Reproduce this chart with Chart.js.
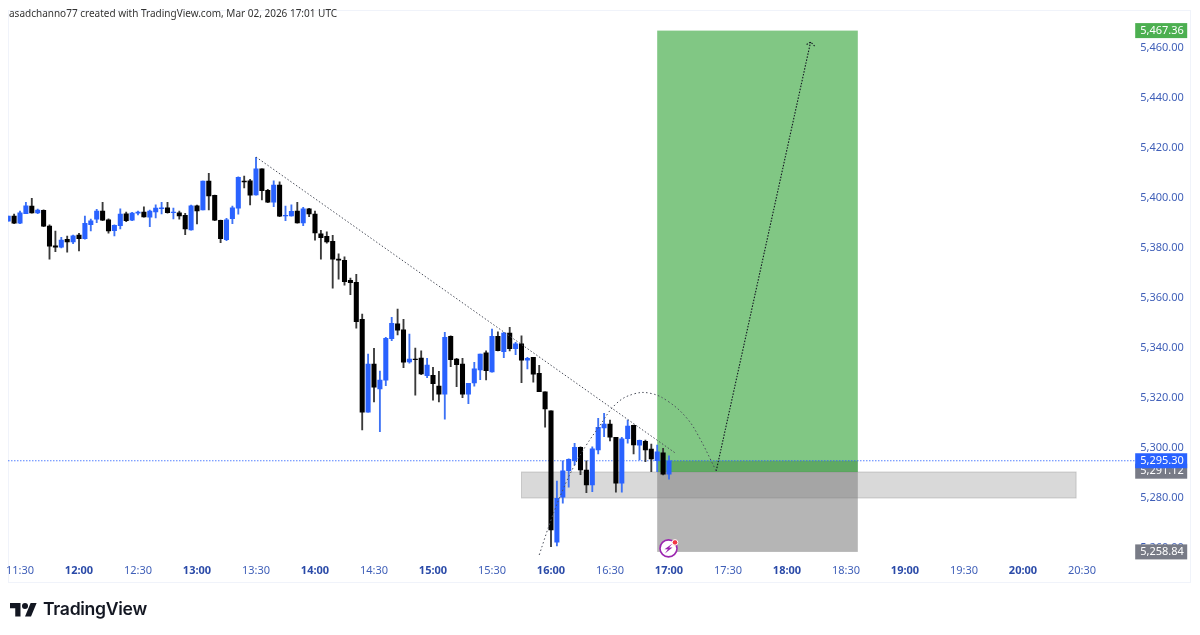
<!DOCTYPE html>
<html>
<head>
<meta charset="utf-8">
<title>asadchanno77 chart</title>
<script src="https://cdn.jsdelivr.net/npm/chart.js@4"></script>
<style>
  html, body { margin: 0; padding: 0; background: #fff; width: 1200px; height: 635px; overflow: hidden; }
  #frame { position: absolute; left: 8px; top: 10px; width: 1183px; height: 573px; border: 1px solid #f0f3fa; box-sizing: border-box; }
  #chart { position: absolute; left: 0; top: 0; }
  #header { position: absolute; left: 9px; top: 6px; font: 10px "Noto Sans", sans-serif; color: #333; white-space: nowrap; }
  #logo { position: absolute; left: 10px; top: 600px; }
  #brand { position: absolute; left: 43px; top: 598px; font: 600 17.6px Inter, sans-serif; color: #131722; letter-spacing: -0.3px; }
</style>
</head>
<body>
<div id="frame"></div>
<canvas id="chart" width="1200" height="635"></canvas>
<div id="header">asadchanno77 created with TradingView.com, Mar 02, 2026 17:01 UTC</div>
<svg id="logo" width="27" height="18" viewBox="0 0 36 24"><path fill="#131722" d="M14 22H7V11H0V4h14v18zM28 22h-8l7.5-18h8L28 22z"/><circle fill="#131722" cx="20" cy="8" r="4"/></svg>
<div id="brand">TradingView</div>
<script>
// 3 minute bars, 11:24 -> 20:54 (bars stop at 17:00, the rest is empty space)
const categories = [
  '11:24','11:27',
  '11:30','11:33','11:36','11:39','11:42','11:45','11:48','11:51','11:54','11:57',
  '12:00','12:03','12:06','12:09','12:12','12:15','12:18','12:21','12:24','12:27',
  '12:30','12:33','12:36','12:39','12:42','12:45','12:48','12:51','12:54','12:57',
  '13:00','13:03','13:06','13:09','13:12','13:15','13:18','13:21','13:24','13:27',
  '13:30','13:33','13:36','13:39','13:42','13:45','13:48','13:51','13:54','13:57',
  '14:00','14:03','14:06','14:09','14:12','14:15','14:18','14:21','14:24','14:27',
  '14:30','14:33','14:36','14:39','14:42','14:45','14:48','14:51','14:54','14:57',
  '15:00','15:03','15:06','15:09','15:12','15:15','15:18','15:21','15:24','15:27',
  '15:30','15:33','15:36','15:39','15:42','15:45','15:48','15:51','15:54','15:57',
  '16:00','16:03','16:06','16:09','16:12','16:15','16:18','16:21','16:24','16:27',
  '16:30','16:33','16:36','16:39','16:42','16:45','16:48','16:51','16:54','16:57',
  '17:00','17:03','17:06','17:09','17:12','17:15','17:18','17:21','17:24','17:27',
  '17:30','17:33','17:36','17:39','17:42','17:45','17:48','17:51','17:54','17:57',
  '18:00','18:03','18:06','18:09','18:12','18:15','18:18','18:21','18:24','18:27',
  '18:30','18:33','18:36','18:39','18:42','18:45','18:48','18:51','18:54','18:57',
  '19:00','19:03','19:06','19:09','19:12','19:15','19:18','19:21','19:24','19:27',
  '19:30','19:33','19:36','19:39','19:42','19:45','19:48','19:51','19:54','19:57',
  '20:00','20:03','20:06','20:09','20:12','20:15','20:18','20:21','20:24','20:27',
  '20:30','20:33','20:36','20:39','20:42','20:45','20:48','20:51','20:54'
];

const opens = [
  5391.1,5393.2,5390.3,5394.1,5397.2,5394.4,5395.5,5389.2,5381.3,5380.7,
  5383.9,5382.8,5385.6,5384.1,5389.7,5391.9,5395.2,5391.7,5387.3,5389.3,
  5394.1,5391.5,5394.3,5394.8,5392.7,5394.8,5396.1,5396.5,5394.5,5394.5,
  5393.5,5387.6,5397.3,5395.6,5407.2,5401.5,5391.5,5383.7,5392.1,5396.3,
  5407.2,5407.3,5401.6,5412.1,5403.5,5398.7,5405.6,5393.2,5393.2,5395.2,
  5390.4,5396.1,5394.0,5386.1,5385.1,5383.1,5376.0,5375.5,5367.5,5366.7,
  5351.9,5314.7,5334.0,5324.0,5327.5,5344.1,5350.1,5347.7,5334.8,5336.0,
  5336.4,5329.3,5329.5,5325.2,5321.9,5345.1,5336.0,5334.0,5321.9,5326.4,
  5331.6,5338.5,5330.8,5345.1,5338.9,5346.4,5340.1,5342.1,5335.5,5336.7,
  5330.3,5322.9,5315.3,5262.7,5280.7,5291.3,5295.3,5300.7,5291.6,5285.6,
  5299.6,5308.4,5310.0,5304.7,5286.3,5304.1,5309.5,5301.5,5303.1,5300.0,
  5295.3,5298.5,5289.9
];
const highs = [
  5393.2,5394.0,5395.2,5398.7,5400.3,5396.0,5395.7,5389.7,5387.2,5384.7,
  5385.2,5385.6,5386.3,5393.2,5392.0,5395.9,5398.7,5392.1,5389.7,5396.1,
  5394.8,5394.7,5395.2,5396.9,5395.6,5397.7,5398.7,5398.7,5396.4,5395.2,
  5394.3,5397.6,5397.6,5407.2,5410.3,5401.6,5391.6,5392.3,5397.2,5408.9,
  5409.2,5407.9,5416.7,5412.1,5403.9,5407.3,5406.9,5397.2,5397.7,5398.7,
  5396.7,5396.3,5395.2,5387.5,5386.9,5385.5,5378.1,5376.9,5368.4,5369.9,
  5354.0,5338.0,5340.3,5331.2,5344.7,5352.7,5356.0,5351.9,5346.0,5340.4,
  5339.3,5336.3,5332.7,5331.1,5346.7,5345.3,5336.3,5336.3,5326.3,5334.7,
  5338.0,5339.3,5348.0,5346.9,5346.7,5348.7,5342.7,5345.3,5336.7,5336.7,
  5333.5,5322.9,5315.3,5287.2,5295.3,5296.1,5302.3,5300.9,5295.3,5300.9,
  5312.3,5314.3,5311.6,5304.7,5304.7,5311.6,5309.6,5303.6,5303.6,5302.0,
  5301.6,5300.3,5297.3
];
const lows = [
  5391.1,5390.1,5390.1,5394.1,5394.3,5394.1,5388.9,5375.9,5378.9,5380.4,
  5378.7,5382.1,5379.2,5383.9,5387.2,5390.5,5391.3,5386.3,5385.2,5388.0,
  5390.9,5391.3,5393.6,5392.7,5388.9,5392.4,5394.0,5394.3,5392.0,5391.9,
  5385.7,5387.5,5390.0,5395.6,5395.6,5391.3,5382.5,5383.3,5390.1,5393.9,
  5404.4,5397.6,5401.5,5399.6,5398.5,5396.9,5392.9,5391.3,5393.1,5390.3,
  5389.3,5392.9,5383.5,5375.9,5382.3,5364.3,5367.9,5365.5,5361.7,5348.3,
  5307.6,5314.7,5318.8,5306.9,5325.3,5343.3,5345.6,5332.5,5334.3,5321.5,
  5329.7,5328.5,5319.5,5318.8,5311.9,5332.9,5324.9,5320.5,5318.1,5325.1,
  5327.7,5327.6,5330.7,5339.2,5336.5,5339.2,5337.7,5326.5,5332.0,5326.7,
  5322.9,5308.7,5260.9,5261.2,5278.3,5284.7,5293.6,5289.7,5282.5,5282.9,
  5298.0,5304.9,5303.2,5282.7,5282.7,5302.3,5298.0,5295.6,5294.9,5290.9,
  5290.9,5289.6,5287.9
];
const closes = [
  5393.2,5390.3,5394.5,5397.3,5394.4,5395.6,5389.1,5381.1,5380.7,5383.6,
  5382.8,5385.3,5384.1,5390.3,5391.3,5395.2,5391.5,5387.2,5389.5,5394.0,
  5391.3,5394.4,5394.8,5392.8,5395.2,5396.4,5396.5,5394.5,5394.8,5393.2,
  5388.0,5397.3,5395.2,5407.2,5401.2,5391.5,5384.1,5391.7,5396.5,5408.7,
  5406.8,5401.5,5412.1,5403.3,5398.7,5405.6,5393.1,5393.5,5395.1,5390.4,
  5396.1,5394.0,5386.4,5384.5,5382.8,5375.9,5375.5,5366.9,5366.5,5350.9,
  5314.7,5334.0,5324.7,5327.6,5344.3,5350.3,5347.5,5334.7,5336.0,5335.7,
  5330.0,5333.6,5326.1,5321.9,5344.7,5335.7,5333.7,5321.9,5326.3,5332.1,
  5338.0,5331.3,5345.1,5339.3,5346.4,5340.1,5342.1,5335.5,5336.3,5329.9,
  5322.9,5316.0,5267.6,5280.3,5291.3,5295.9,5300.7,5291.6,5285.6,5300.1,
  5308.7,5310.0,5304.7,5286.3,5304.1,5309.2,5301.6,5303.5,5299.6,5296.0,
  5298.9,5289.9,5295.3
];

const priceTicks = [5260,5280,5300,5320,5340,5360,5380,5400,5420,5440,5460];
const timeTicks = ['11:30','12:00','12:30','13:00','13:30','14:00','14:30','15:00','15:30','16:00','16:30','17:00','17:30','18:00','18:30','19:00','19:30','20:00','20:30'];

// drawings on the chart
const trendTimes = ['13:30','17:03'];
const trendPrices = [5416.8,5298.5];
const curveTimes = ['15:54','16:00','16:06','16:12','16:18','16:24','16:33','16:42','16:51','17:00','17:09','17:15','17:24'];
const curvePrices = [5257.6,5271.6,5283.6,5293.6,5301.6,5308.4,5318,5322,5322.2,5318.8,5312.4,5305.2,5291.2];
const arrowTimes = ['17:24','18:12'];
const arrowPrices = [5291.2,5462.8];

const lastPrice = 5295.30;
const targetPrice = 5467.36;
const entryPrice = 5291.12;
const stopPrice = 5258.84;
const zoneTimes = ['16:54','18:36'];
const boxTimes = ['15:45','20:27'];
const boxPrices = [5290.8,5280.4];

const UP = '#2962ff', DOWN = '#000000';
const LINE = '#4a4e5a';
const isUp = i => closes[i] >= opens[i];
const money = v => v.toLocaleString('en-US', {minimumFractionDigits: 2, maximumFractionDigits: 2});
const LABEL_FONT = '11px "Noto Sans", sans-serif';

function rectBetween(c, x, y, t0, t1, p0, p1, fill) {
  const l = x.getPixelForValue(categories.indexOf(t0)), r = x.getPixelForValue(categories.indexOf(t1));
  const a = y.getPixelForValue(p0), b = y.getPixelForValue(p1);
  c.fillStyle = fill;
  c.fillRect(l, a, r - l, b - a);
  return [l, a, r - l, b - a];
}

const drawings = {
  id: 'drawings',
  beforeDatasetsDraw(chart) {
    const c = chart.ctx, x = chart.scales.x, y = chart.scales.y;
    c.save();
    // grey box
    const b = rectBetween(c, x, y, boxTimes[0], boxTimes[1], boxPrices[0], boxPrices[1], 'rgba(128,128,128,0.3)');
    c.strokeStyle = 'rgba(128,128,128,0.35)';
    c.strokeRect(b[0], b[1], b[2], b[3]);
    // long position
    rectBetween(c, x, y, zoneTimes[0], zoneTimes[1], targetPrice, boxPrices[0], 'rgba(76,175,80,0.7)');
    rectBetween(c, x, y, zoneTimes[0], zoneTimes[1], lastPrice, boxPrices[0], 'rgba(46,125,50,0.4)');
    rectBetween(c, x, y, zoneTimes[0], zoneTimes[1], boxPrices[0], stopPrice, 'rgba(128,128,128,0.58)');
    // last price line, left off the pixel grid so it keeps its blue
    const ly = y.getPixelForValue(lastPrice);
    c.strokeStyle = UP;
    c.lineWidth = 1.1;
    c.setLineDash([1.2, 1.8]);
    c.beginPath();
    c.moveTo(chart.chartArea.left, ly);
    c.lineTo(chart.chartArea.right + 6, ly);
    c.stroke();
    c.restore();
  },
  afterDraw(chart) {
    const c = chart.ctx, x = chart.scales.x, y = chart.scales.y;
    c.save();
    // arrow head
    const tx = x.getPixelForValue(categories.indexOf(arrowTimes[1])), ty = y.getPixelForValue(arrowPrices[1]);
    c.strokeStyle = '#131722';
    c.lineWidth = 1.1;
    c.setLineDash([1.5, 1.5]);
    c.beginPath();
    c.moveTo(tx - 4, ty + 2.5);
    c.lineTo(tx, ty);
    c.lineTo(tx + 4, ty + 4);
    c.stroke();
    c.setLineDash([]);

    // lightning badge under the 17:00 bar
    const bx = x.getPixelForValue(categories.indexOf('17:00')) - 0.5, by = y.getPixelForValue(stopPrice) - 3.5;
    c.beginPath();
    c.arc(bx, by, 8.5, 0, Math.PI * 2);
    c.fillStyle = '#fff';
    c.fill();
    c.lineWidth = 1.6;
    c.strokeStyle = '#9c27b0';
    c.stroke();
    c.beginPath();
    c.moveTo(bx + 4, by - 5);
    c.lineTo(bx - 4, by + 0.8);
    c.lineTo(bx - 0.6, by + 0.8);
    c.lineTo(bx - 3.6, by + 5);
    c.lineTo(bx + 4, by - 0.8);
    c.lineTo(bx + 0.6, by - 0.8);
    c.closePath();
    c.fillStyle = '#9c27b0';
    c.fill();
    c.beginPath();
    c.arc(bx + 6.5, by - 6, 2.8, 0, Math.PI * 2);
    c.fillStyle = '#f23645';
    c.strokeStyle = '#fff';
    c.lineWidth = 1;
    c.fill();
    c.stroke();

    // price tags on the axis
    const tagX = chart.chartArea.right + 6;
    const tags = [[targetPrice, '#4caf50'], [entryPrice, '#787b86'], [stopPrice, '#787b86'], [lastPrice, UP]];
    c.font = LABEL_FONT;
    c.textBaseline = 'middle';
    c.textAlign = 'left';
    tags.forEach(t => {
      const py = y.getPixelForValue(t[0]);
      c.fillStyle = t[1];
      c.fillRect(tagX, py - 7.5, 52, 15);
      c.fillStyle = '#fff';
      c.fillText(money(t[0]), tagX + 5, py);
    });
    c.restore();
  }
};

new Chart(document.getElementById('chart'), {
  data: {
    labels: categories,
    datasets: [
      {
        type: 'bar',
        label: 'wicks',
        data: opens.map((_, i) => [lows[i], highs[i]]),
        backgroundColor: ctx => isUp(ctx.dataIndex) ? '#3d72f5' : '#3a3a3a',
        barThickness: 1.2,
        grouped: false,
        order: 3
      },
      {
        type: 'bar',
        label: 'bodies',
        data: opens.map((o, i) => [o, closes[i]]),
        backgroundColor: ctx => isUp(ctx.dataIndex) ? UP : DOWN,
        barThickness: 4.4,
        grouped: false,
        order: 2
      },
      {
        type: 'line',
        label: 'trend',
        data: trendTimes.map((t, i) => ({x: t, y: trendPrices[i]})),
        borderColor: LINE,
        borderWidth: 1,
        borderDash: [1.5, 2],
        pointRadius: 0,
        order: 1
      },
      {
        type: 'line',
        label: 'curve',
        data: curveTimes.map((t, i) => ({x: t, y: curvePrices[i]})),
        borderColor: LINE,
        borderWidth: 1,
        borderDash: [1.5, 2.5],
        pointRadius: 0,
        tension: 0.4,
        order: 1
      },
      {
        type: 'line',
        label: 'arrow',
        data: arrowTimes.map((t, i) => ({x: t, y: arrowPrices[i]})),
        borderColor: '#131722',
        borderWidth: 1.1,
        borderDash: [1.5, 1.5],
        pointRadius: 0,
        order: 1
      }
    ]
  },
  options: {
    responsive: false,
    animation: false,
    devicePixelRatio: 1,
    layout: {autoPadding: false, padding: {left: 8.2, top: 10, right: 9, bottom: 52}},
    plugins: {legend: {display: false}, tooltip: {enabled: false}},
    events: [],
    scales: {
      x: {
        type: 'category',
        offset: false,
        grid: {display: false, drawTicks: false},
        border: {display: false},
        afterFit(s) { s.height = 27; s.paddingLeft = 0; s.paddingRight = 0; },
        afterBuildTicks(s) { s.ticks = timeTicks.map(t => ({value: categories.indexOf(t)})); },
        ticks: {
          autoSkip: false,
          maxRotation: 0,
          padding: 8,
          color: ctx => String(ctx.tick.label).endsWith(':00') ? '#2a4aa8' : '#3f5fb8',
          font: ctx => ({family: '"Noto Sans", sans-serif', size: 11, weight: String(ctx.tick.label).endsWith(':00') ? '700' : '400'})
        }
      },
      y: {
        position: 'right',
        min: 5257.2,
        max: 5475.6,
        grid: {display: false, drawTicks: false},
        border: {display: false},
        afterFit(s) { s.width = 61.8; s.paddingTop = 0; s.paddingBottom = 0; },
        afterBuildTicks(s) { s.ticks = priceTicks.map(v => ({value: v})); },
        ticks: {
          padding: 11,
          labelOffset: -1,
          color: '#3f5fb8',
          font: {family: '"Noto Sans", sans-serif', size: 11},
          callback: v => money(v)
        }
      }
    }
  },
  plugins: [drawings]
});
</script>
</body>
</html>
